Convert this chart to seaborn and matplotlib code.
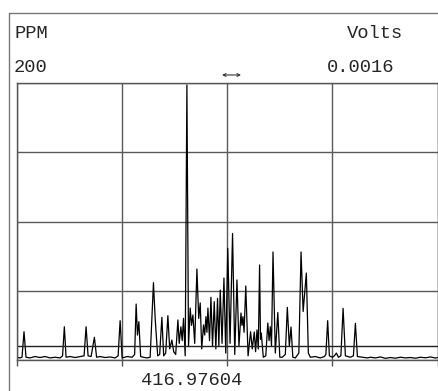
import matplotlib
matplotlib.use("Agg")
import matplotlib.pyplot as plt
import seaborn as sns
import pandas as pd
from matplotlib.lines import Line2D

# ---- data (channel index vs PPM) ----
channel = [0, 3, 5, 7, 9, 13, 18, 23, 28, 33, 38, 43, 45.5, 47.3, 49, 53, 58, 63, 67, 69,
           71, 74, 77.3, 79.5, 83, 88, 93, 98, 101, 103, 105, 110, 115, 117.5, 119, 120.3,
           121.7, 123.5, 126, 130, 133, 136.3, 138, 140.5, 142.5, 144.7, 146.5, 148.5, 150.7,
           152.5, 154.7, 156.5, 158.5, 160.7, 162, 163.7, 165, 166.3, 168, 169.7, 171.3, 173,
           174.3, 175.7, 177.5, 179.7, 181.5, 183, 184.5, 186.3, 187.5, 188.7, 189.7, 190.7,
           192.3, 193.7, 195.3, 197, 198.6, 200.3, 201.6, 203, 204.8, 206.7, 208.5, 210.5,
           212.8, 215.3, 217.5, 219.7, 221.7, 223.7, 224.7, 225.7, 226.8, 228.5, 230.8, 233.3,
           235, 237, 238.3, 239.7, 241, 242.3, 243.2, 244, 246, 248.5, 250.5, 251.8, 253,
           254.2, 255.7, 258, 260.5, 262.5, 265, 268, 270, 272, 273.7, 275.5, 278, 281.5,
           283.7, 285.8, 289, 291, 293, 298, 303, 307, 308.5, 310.3, 312, 315, 317, 319, 321,
           323.5, 325.7, 328, 333, 336, 338, 340, 345, 350, 353, 358, 363, 368, 373, 378, 383,
           388, 393, 398, 403, 408, 413, 418, 420]
ppm = [2, 1.5, 2, 20.4, 2, 1.5, 2.5, 1.8, 2.5, 1.5, 2, 1.5, 3, 24, 2, 2.5, 1.8, 2.5, 3, 24,
       3, 2.5, 16.4, 2, 2.5, 1.8, 2.2, 1.5, 3, 28.4, 1.5, 2.5, 2, 4, 40.4, 18,
       27.7, 2.5, 2, 1.5, 2, 55.8, 30, 3, 4, 30.8, 3, 5, 32,
       8, 14.4, 6, 4, 28.9, 12, 24, 14, 30.1, 3, 198.6, 10, 37.5,
       25, 32.5, 12, 65.7, 30, 41.2, 8, 25.3, 18, 31.3, 20, 37.5,
       14, 45.3, 10, 42.1, 8, 44.5, 10, 50.5, 12, 59.2, 5, 80.6,
       12, 91.3, 4, 57.8, 10, 33.9, 25, 31.3, 20, 53.4, 3, 20.4,
       8, 20.2, 6, 21.7, 8, 68.6, 15, 19.5, 2, 3, 26.7, 14, 24,
       10, 78, 5, 34.3, 2, 2, 4, 38, 10, 23.8, 2, 1.5, 5,
       78, 35, 62.8, 5, 2, 2.5, 1.5, 2.5, 4, 28.4, 3, 2, 3, 5, 2,
       3, 37.3, 3, 2, 3, 26.5, 2.5, 2, 1.5, 2, 1.5, 2.2, 1.2,
       1.8, 1.3, 2, 1.5, 1.8, 1.3, 2, 1.6, 2.2, 1.4, 1.8]

y_label = "PPM"
y_right_label = "Volts"
y_max_label = "200"
y_right_max_label = "0.0016"
cursor_label = "416.97604"
threshold_ppm = 10
x_grid = [0, 105, 210, 315, 420]
y_grid = [0, 50, 100, 150, 200]

df = pd.DataFrame({"channel": channel, "ppm": ppm})

sns.set_style("white")
plt.rcParams["font.family"] = ["Liberation Mono", "DejaVu Sans Mono"]

W, H = 438, 391
fig = plt.figure(figsize=(W / 100, H / 100), dpi=100)
ax = fig.add_axes([17 / W, 1 - 360 / H, 420.5 / W, 277 / H])

sns.lineplot(data=df, x="channel", y="ppm", ax=ax, color="black", lw=0.9,
             sort=False, estimator=None)

ax.set_xlim(0, 420)
ax.set_ylim(0, 200)
ax.set_xticks(x_grid)
ax.set_yticks(y_grid)
ax.set_xticklabels([])
ax.set_yticklabels([])
ax.set_xlabel("")
ax.set_ylabel("")
ax.grid(True, color="#5a5a5a", lw=1.0)
ax.set_axisbelow(True)
ax.tick_params(axis="x", direction="out", length=4, width=1, color="#555555", bottom=True)
ax.tick_params(axis="y", length=0)
for s in ax.spines.values():
    s.set_color("#555555")
    s.set_linewidth(1.0)
    s.set_visible(True)

ax.axhline(threshold_ppm, color="#222222", lw=1.0)

# outer frame
fig.add_artist(Line2D([9 / W, 1], [1 - 13 / H, 1 - 13 / H], color="#777777", lw=1.0,
                      transform=fig.transFigure))
fig.add_artist(Line2D([9 / W, 9 / W], [1 - 13 / H, 0], color="#777777", lw=1.0,
                      transform=fig.transFigure))

fs = 13.5
fig.text(14 / W, 1 - 33 / H, y_label, ha="left", va="center", fontsize=fs)
fig.text(403 / W, 1 - 33 / H, y_right_label, ha="right", va="center", fontsize=fs)
fig.text(14 / W, 1 - 67 / H, y_max_label, ha="left", va="center", fontsize=fs)
fig.text(394 / W, 1 - 67 / H, y_right_max_label, ha="right", va="center", fontsize=fs)
fig.text(191.5 / W, 2 / H, cursor_label, ha="center", va="bottom", fontsize=fs)

# cursor marker arrow
ax.annotate("", xy=(222 / W, 1 - 75 / H), xytext=(241 / W, 1 - 75 / H),
            xycoords="figure fraction", textcoords="figure fraction",
            arrowprops=dict(arrowstyle="<->", color="#333333", lw=0.8,
                            mutation_scale=5, shrinkA=0, shrinkB=0))

fig.savefig("out.png", dpi=100)
